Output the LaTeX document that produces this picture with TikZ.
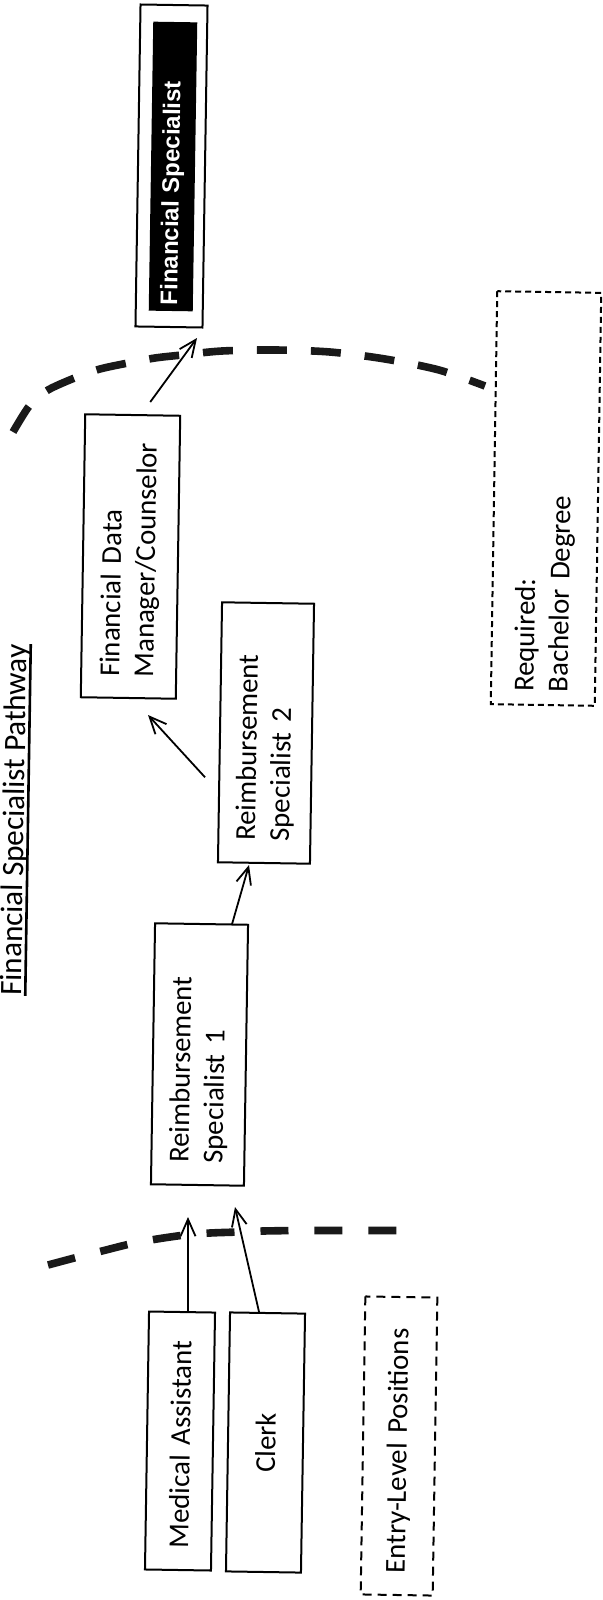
\documentclass[tikz,border=0pt]{standalone}
\usepackage{fontspec}
\setmainfont{Carlito}
\newfontfamily\fsfont{Liberation Sans}
\usetikzlibrary{arrows.meta,calc}
\begin{document}
\begin{tikzpicture}[x=0.5pt,y=-0.5pt,
  every node/.style={font=\fontsize{14.4}{17}\selectfont},
  pbox/.style={draw, line width=1pt, rotate=89.1, inner sep=0pt, align=left},
  dbox/.style={pbox, dash pattern=on 4.5pt off 3pt},
  rbox/.style={pbox, dash pattern=on 3pt off 2pt},
  arr/.style={line width=0.9pt, -{Straight Barb[length=8.5pt,width=7.5pt,line width=0.9pt]}},
  bigdash/.style={line width=3.8pt, black!90, line cap=butt},
]
\useasboundingbox (0,0) rectangle (602,1600);
\clip (0,0) rectangle (602,1600);
\fill[white] (0,0) rectangle (602,1600);

% title
\node[rotate=89.1, inner sep=0pt, anchor=base, font=\fontsize{15.6}{18}\selectfont] (title) at (24,820) {Financial Specialist Pathway};
\draw[line width=1.3pt] ($(title.base west)+(4,0)$) -- ($(title.base east)+(4,0)$);

% boxes
\node[pbox, minimum width=129pt, minimum height=33pt, text width=107pt] (ma) at (180,1441) {Medical Assistant};
\node[pbox, align=center, minimum width=129.5pt, minimum height=37.5pt] (clerk) at (265.5,1442.5) {Clerk};
\node[dbox, minimum width=149pt, minimum height=36pt, text width=127pt] (entry) at (399,1446) {Entry-Level Positions};
\node[pbox, minimum width=130.5pt, minimum height=46.5pt, text width=108.5pt] (rs1) at (199.5,1054.5) {Reimbursement\\Specialist 1};
\node[pbox, minimum width=130pt, minimum height=46pt, text width=108pt] (rs2) at (266,733) {Reimbursement\\Specialist 2};
\node[pbox, minimum width=141.5pt, minimum height=47.5pt, text width=120.5pt] (fdm) at (130.5,556.5) {Financial Data\\Manager/Counselor};
\node[rbox, minimum width=206.5pt, minimum height=52pt, text width=193.5pt] (req) at (546,498.5) {Required:\\Bachelor Degree};
\node[draw, fill=white, line width=1pt, rotate=89.1, minimum width=161pt, minimum height=33.5pt, inner sep=0pt] (fs) at (171.5,166) {};
\node[fill=black, text=white, rotate=89.1, minimum width=144.5pt, minimum height=22pt, inner sep=0pt, text width=138.5pt, align=left, font=\fsfont\bfseries\fontsize{12}{14}\selectfont] (fsin) at (173,166.5) {Financial Specialist};

% arrow tips
\coordinate (t1) at (188,1217);
\coordinate (t2) at (235,1207);
\coordinate (t3) at (249,865);
\coordinate (t4) at (148,715);
\coordinate (t5) at (197,338);

\draw[arr] ($(ma.east)+(6,0)$) -- (t1);
\draw[arr] ($(clerk.east)+(-8.5,0)$) -- (t2);
\draw[arr] ($(rs1.east)+(30.5,1)$) -- (t3);
\draw[arr] ($(rs2.north)+(-14,45)$) -- (t4);
\draw[arr] ($(fdm.east)+(17.5,-12)$) -- (t5);

% thick dashed boundaries
\draw[bigdash, dash pattern=on 14pt off 13pt] plot[smooth] coordinates {(48,1265) (78,1257) (102,1251) (130,1244) (157,1239) (185,1235) (210,1233) (238,1232) (263,1231) (300,1230.5) (350,1230.5) (402,1230.5)};
\draw[bigdash, dash pattern=on 15pt off 12pt] plot[smooth] coordinates {(13,432) (30,405) (48,390) (77,377) (100,369) (128,363) (155,358) (182,355) (222,351) (275,350) (330,352) (385,359) (439,370) (485,386)};
\end{tikzpicture}
\end{document}
